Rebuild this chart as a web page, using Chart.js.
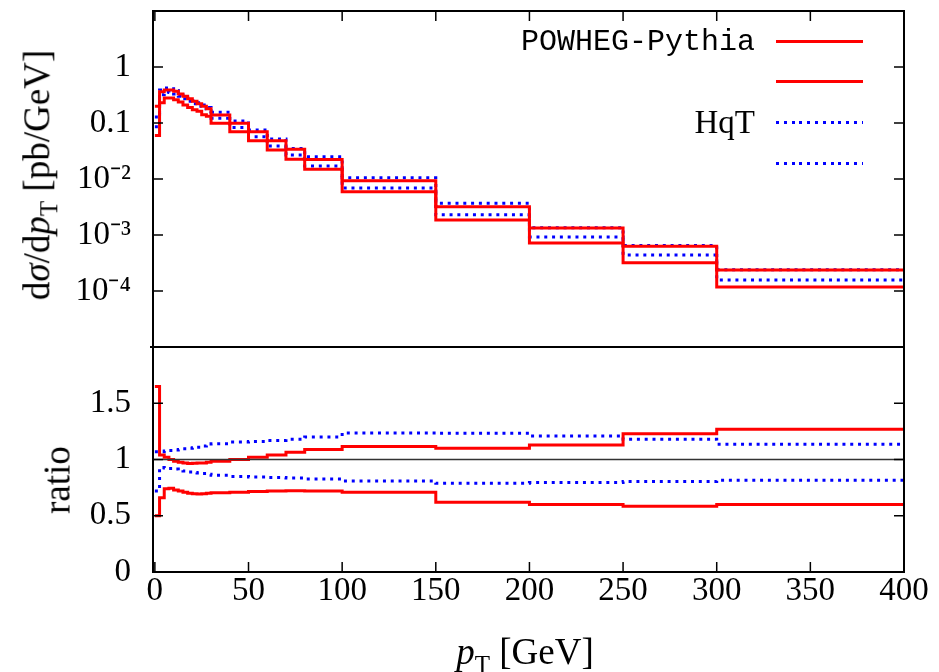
<!DOCTYPE html>
<html>
<head>
<meta charset="utf-8">
<script src="https://cdn.jsdelivr.net/npm/chart.js@4.4.0/dist/chart.umd.min.js"></script>
<style>
    body { margin: 0; background: #fff; }
    #wrap { position: relative; width: 939px; height: 672px; }
    canvas { position: absolute; left: 0; top: 0; }
    .txt { position: absolute; font-family: 'Liberation Serif', serif; font-size: 33px; color: #000; white-space: nowrap; line-height: 1; }
    .title { font-size: 37px; }
    .mono { font-family: 'Liberation Mono', monospace; font-size: 30px; }
    .rot { transform: translate(-50%, -50%) rotate(-90deg); }
    .sample { position: absolute; left: 776px; width: 87px; height: 3px; }
    .solid { background: #ff0000; }
    .dots { background: repeating-linear-gradient(to right, #0000ff 0 3px, transparent 3px 7.8px); }
</style>
</head>
<body>
<div id="wrap">
    <canvas id="ptChart" width="939" height="672"></canvas>

    <!-- axis titles -->
    <div class="txt title rot" style="left:40px; top:175px;">d<i>σ</i>/d<i>p</i><sub style="font-size:25px">T</sub> [pb/GeV]</div>
    <div class="txt title rot" style="left:57px; top:480px;">ratio</div>
    <div class="txt title" style="left:525px; top:655px; transform: translate(-50%, -50%);"><i>p</i><sub style="font-size:25px">T</sub> [GeV]</div>

    <!-- key -->
    <div class="txt mono" style="right:184px; top:27px;">POWHEG-Pythia</div>
    <div class="sample solid" style="top:40px;"></div>
    <div class="sample solid" style="top:80px;"></div>
    <div class="txt" style="right:184px; top:106px;">HqT</div>
    <div class="sample dots" style="top:121px;"></div>
    <div class="sample dots" style="top:162px;"></div>
</div>

<script>
// bin edges in pT [GeV]
const binEdges = [0, 2.5, 5, 7.5, 10, 12.5, 15, 17.5, 20, 22.5, 25, 27.5, 30, 40, 50, 60, 70, 80, 100, 150, 200, 250, 300, 400];

// dsigma/dpT [pb/GeV], band edges
const powhegUp = [0.20, 0.36, 0.39, 0.39, 0.37, 0.33, 0.30, 0.27, 0.245, 0.22, 0.20, 0.18, 0.139, 0.099, 0.070, 0.048, 0.034, 0.0224, 0.0093, 0.0032, 0.00133, 0.00063, 0.000237];
const powhegLo = [0.06, 0.23, 0.28, 0.28, 0.26, 0.237, 0.21, 0.19, 0.173, 0.162, 0.14, 0.132, 0.099, 0.070, 0.048, 0.033, 0.0225, 0.0149, 0.0059, 0.00185, 0.00072, 0.00032, 0.000118];
const hqtUp = [0.128, 0.39, 0.42, 0.41, 0.38, 0.34, 0.31, 0.28, 0.25, 0.23, 0.21, 0.19, 0.155, 0.109, 0.075, 0.052, 0.035, 0.025, 0.0105, 0.0037, 0.00135, 0.00065, 0.00024];
const hqtLo = [0.086, 0.32, 0.36, 0.35, 0.33, 0.30, 0.27, 0.245, 0.22, 0.20, 0.18, 0.165, 0.121, 0.083, 0.057, 0.039, 0.0268, 0.017, 0.0069, 0.0023, 0.00092, 0.00044, 0.000158];

// ratio panel
const ratioPowhegUp = [1.65, 1.04, 1.02, 1.0, 0.985, 0.975, 0.968, 0.965, 0.966, 0.968, 0.97, 0.975, 0.985, 1.0, 1.02, 1.04, 1.065, 1.09, 1.115, 1.10, 1.13, 1.23, 1.27];
const ratioPowhegLo = [0.5, 0.66, 0.74, 0.745, 0.73, 0.72, 0.71, 0.70, 0.695, 0.693, 0.695, 0.70, 0.705, 0.71, 0.715, 0.72, 0.723, 0.72, 0.71, 0.62, 0.60, 0.585, 0.60];
const ratioHqtUp = [1.07, 1.07, 1.075, 1.08, 1.085, 1.09, 1.095, 1.10, 1.105, 1.11, 1.12, 1.125, 1.14, 1.155, 1.16, 1.17, 1.18, 1.20, 1.236, 1.233, 1.21, 1.18, 1.135];
const ratioHqtLo = [0.72, 0.93, 0.925, 0.92, 0.915, 0.905, 0.898, 0.89, 0.885, 0.88, 0.875, 0.87, 0.86, 0.85, 0.845, 0.84, 0.835, 0.826, 0.81, 0.79, 0.795, 0.805, 0.815];

// ticks
const xTicks = [0, 50, 100, 150, 200, 250, 300, 350, 400];
const yTicks = [10, 1, 0.1, 0.01, 0.001, 0.0001, 0.00001];
const yTickLabels = ['', '1', '0.1', '10⁻²', '10⁻³', '10⁻⁴', ''];
const ratioTicks = [0, 0.5, 1, 1.5, 2];
const ratioTickLabels = ['0', '0.5', '1', '1.5', ''];

const RED = '#ff0000';
const BLUE = '#0000ff';
const TICK = 10;
const FONT = { family: "'Liberation Serif', serif", size: 33 };

// histogram points: value at left edge, closing point at last edge
function histo(values) {
    const pts = values.map((v, i) => ({ x: binEdges[i], y: v }));
    pts.push({ x: binEdges[binEdges.length - 1], y: values[values.length - 1] });
    return pts;
}

function line(values, axis, color, dotted) {
    return {
        data: histo(values),
        yAxisID: axis,
        borderColor: color,
        borderWidth: 3,
        borderDash: dotted ? [3, 4.8] : [],
        stepped: true,
        pointRadius: 0,
        fill: false
    };
}

// no extra room for end labels
function noPad(s) {
    s.paddingTop = 0;
    s.paddingBottom = 0;
    s.paddingLeft = 0;
    s.paddingRight = 0;
}

// frame, panel separator and inward tick marks
const framePlugin = {
    id: 'frame',
    afterDraw(chart) {
        const { ctx, chartArea: a, scales } = chart;
        ctx.save();
        ctx.strokeStyle = '#000';
        ctx.lineWidth = 2;
        ctx.strokeRect(a.left, a.top, a.right - a.left, a.bottom - a.top);
        ctx.beginPath();
        ctx.moveTo(a.left - 3, scales.y.bottom);
        ctx.lineTo(a.right, scales.y.bottom);
        ctx.stroke();

        ctx.lineWidth = 1.5;
        ctx.beginPath();
        scales.x.ticks.forEach(t => {
            const px = scales.x.getPixelForValue(t.value);
            ctx.moveTo(px, a.bottom); ctx.lineTo(px, a.bottom - TICK);
            ctx.moveTo(px, a.top); ctx.lineTo(px, a.top + TICK);
        });
        [scales.y, scales.yr].forEach(s => s.ticks.forEach(t => {
            const py = s.getPixelForValue(t.value);
            ctx.moveTo(a.left, py); ctx.lineTo(a.left + TICK, py);
            ctx.moveTo(a.right, py); ctx.lineTo(a.right - TICK, py);
        }));
        ctx.stroke();
        ctx.restore();
    }
};

const noGrid = { display: false, drawTicks: false };

new Chart(document.getElementById('ptChart'), {
    type: 'line',
    data: {
        datasets: [
            {
                data: [{ x: -1, y: 1 }, { x: 400, y: 1 }],
                yAxisID: 'yr',
                borderColor: '#333',
                borderWidth: 1.5,
                pointRadius: 0
            },
            line(powhegUp, 'y', RED, false),
            line(powhegLo, 'y', RED, false),
            line(hqtUp, 'y', BLUE, true),
            line(hqtLo, 'y', BLUE, true),
            line(ratioPowhegUp, 'yr', RED, false),
            line(ratioPowhegLo, 'yr', RED, false),
            line(ratioHqtUp, 'yr', BLUE, true),
            line(ratioHqtLo, 'yr', BLUE, true)
        ]
    },
    options: {
        responsive: false,
        animation: false,
        layout: { padding: { top: 11, right: 35, left: 0, bottom: 0 } },
        plugins: { legend: { display: false }, tooltip: { enabled: false } },
        scales: {
            x: {
                type: 'linear',
                min: -1,
                max: 400,
                grid: noGrid,
                border: { display: false },
                afterBuildTicks: s => { s.ticks = xTicks.map(v => ({ value: v })); },
                afterFit: s => { s.height = 100; noPad(s); },
                ticks: { font: FONT, color: '#000', padding: 0, maxRotation: 0, autoSkip: false }
            },
            yr: {
                type: 'linear',
                position: 'left',
                stack: 'panels',
                stackWeight: 225,
                min: 0,
                max: 2,
                grid: noGrid,
                border: { display: false },
                afterBuildTicks: s => { s.ticks = ratioTicks.map(v => ({ value: v })); },
                afterFit: s => { s.width = 153; noPad(s); },
                ticks: { font: FONT, color: '#000', padding: 22, autoSkip: false, callback: (v, i) => ratioTickLabels[i] }
            },
            y: {
                type: 'logarithmic',
                position: 'left',
                stack: 'panels',
                stackWeight: 336,
                min: 1e-5,
                max: 10,
                grid: noGrid,
                border: { display: false },
                afterBuildTicks: s => { s.ticks = yTicks.map(v => ({ value: v })); },
                afterFit: s => { s.width = 153; noPad(s); },
                ticks: { font: FONT, color: '#000', padding: 22, autoSkip: false, callback: (v, i) => yTickLabels[i] }
            }
        }
    },
    plugins: [framePlugin]
});
</script>
</body>
</html>
